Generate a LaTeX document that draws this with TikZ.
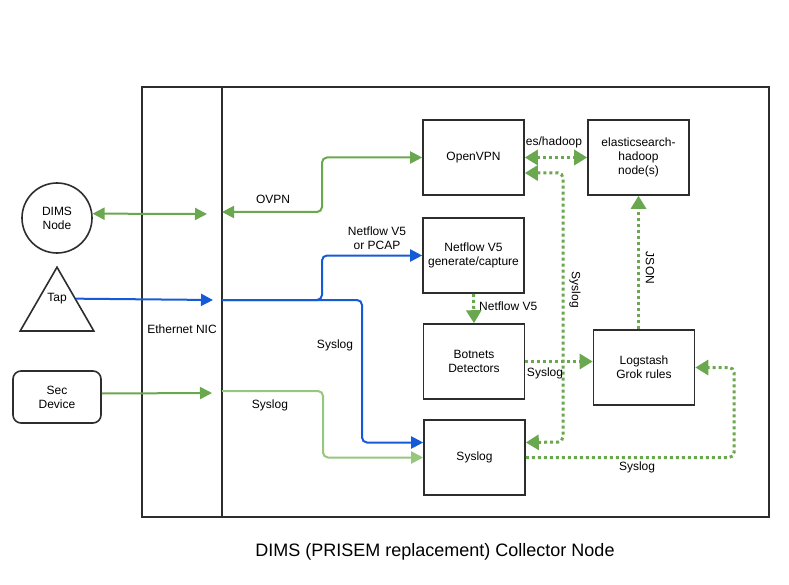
\documentclass[tikz,border=0pt]{standalone}
\usepackage{fontspec}
\setmainfont{Liberation Sans}
\usetikzlibrary{arrows.meta,shapes.geometric}
\definecolor{dimsgreen}{RGB}{106,168,79}
\definecolor{palegreen}{RGB}{151,199,125}
\definecolor{dimsblue}{RGB}{21,90,214}
\definecolor{boxgray}{RGB}{45,45,45}
\tikzset{
  box/.style={draw=boxgray,line width=1.6pt,minimum width=101pt,minimum height=75pt,
    inner sep=0pt,align=center,font=\fontsize{12}{14}\selectfont},
  lbl/.style={inner sep=1pt,align=center,font=\fontsize{12}{14}\selectfont},
  greenline/.style={draw=dimsgreen,line width=2pt,rounded corners=5pt,>={Triangle[length=12pt,width=12pt]}},
  paleline/.style={draw=palegreen,line width=2pt,rounded corners=5pt,>={Triangle[length=12pt,width=12pt]}},
  blueline/.style={draw=dimsblue,line width=2pt,rounded corners=5pt,>={Triangle[length=12pt,width=12pt]}},
  dotline/.style={draw=dimsgreen,line width=3pt,dash pattern=on 3pt off 3pt,rounded corners=5pt,
    >={Triangle[length=13pt,width=15pt]}}
}

\begin{document}
\begin{tikzpicture}[x=1pt,y=-1pt]
  \useasboundingbox (0,0) rectangle (789,585);

  % Collector node frame and NIC column
  \draw[boxgray,line width=1.6pt] (142,87) rectangle (769,517);
  \draw[boxgray,line width=1.6pt] (222,87) -- (222,517);
  \node[lbl] (nic) at (182,329) {Ethernet NIC};

  % Outside devices
  \node[lbl,draw=boxgray,line width=1.6pt,circle,minimum size=70pt,inner sep=0pt] (dims) at (57,218) {DIMS\\Node};
  \node[draw=boxgray,line width=1.6pt,regular polygon,regular polygon sides=3,minimum size=85pt,inner sep=0pt] (tap) at (57,309.7) {};
  \node[lbl] (taplabel) at (57,299) {Tap};
  \node[lbl,draw=boxgray,line width=1.6pt,rounded corners=8pt,minimum width=88pt,minimum height=52pt] (secdev) at (57,397) {Sec\\Device};

  % Services
  \node[box] (openvpn) at (473.5,157.5) {OpenVPN};
  \node[box] (netflow) at (473.5,255.5) {Netflow V5\\generate/capture};
  \node[box] (botnets) at (474,361.5) {Botnets\\Detectors};
  \node[box] (syslog) at (474.5,457.5) {Syslog};
  \node[box] (elastic) at (638.5,157.5) {elasticsearch-\\hadoop\\node(s)};
  \node[box] (logstash) at (644,367.5) {Logstash\\Grok rules};

  % NIC end points
  \coordinate (nicin1) at (207,214);
  \coordinate (nicout1) at (222,212);
  \coordinate (nicin2) at (213,300);
  \coordinate (nicout2) at (222,300);
  \coordinate (nicin3) at (212,393);
  \coordinate (nicout3) at (222,391);

  % Into the NIC
  \draw[greenline,<->] (dims.7) -- (nicin1);
  \draw[blueline,->] (tap.side 3) -- (nicin2);
  \draw[greenline,->] ([yshift=3.5pt]secdev.east) -- (nicin3);

  % NIC to services
  \draw[greenline,<->] (nicout1) -- (322,212) |- (openvpn.west);
  \draw[blueline,->] (nicout2) -- (322,300) |- (netflow.west);
  \draw[blueline,->] (nicout2) -- (362,300) |- ([yshift=15pt]syslog.west);
  \draw[paleline,->] (nicout3) -- (323,391) |- (syslog.west);

  % Between services
  \draw[dotline,->] (netflow.south) -- (botnets.north);
  \draw[dotline,<->] (openvpn.east) -- (elastic.west);
  \draw[dotline,<->] ([yshift=15pt]syslog.east) -- (563,442) |- ([yshift=-15.5pt]openvpn.east);
  \draw[dotline,->] (botnets.east) -- (botnets.east -| logstash.west);
  \draw[dotline,->] (elastic.south |- logstash.north) -- (elastic.south);
  \draw[dotline,->] (syslog.east) -- (734,457.5) |- (logstash.east);

  % Labels
  \node[lbl] at (273,199) {OVPN};
  \node[lbl] at (377,238) {Netflow V5\\or PCAP};
  \node[lbl] at (335,345) {Syslog};
  \node[lbl] at (270,405) {Syslog};
  \node[lbl,anchor=west] at (478,306) {Netflow V5};
  \node[lbl] at (554,142) {es/hadoop};
  \node[lbl,rotate=-90] at (575,290) {Syslog};
  \node[lbl,rotate=-90] at (650,268) {JSON};
  \node[lbl] at (545,373) {Syslog};
  \node[lbl] at (637,467) {Syslog};

  \node[font=\fontsize{18}{22}\selectfont] (title) at (435,552) {DIMS (PRISEM replacement) Collector Node};
\end{tikzpicture}
\end{document}
